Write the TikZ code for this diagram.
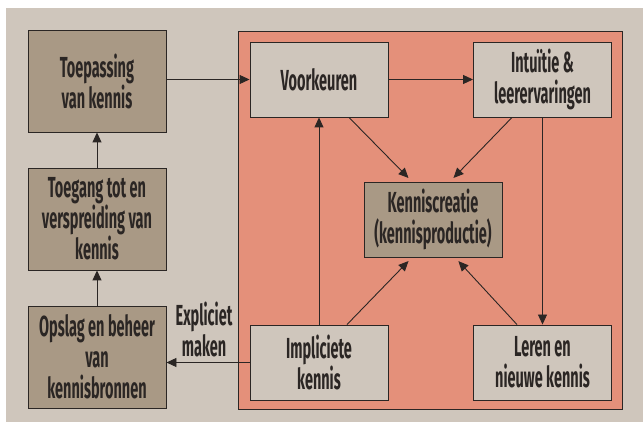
\documentclass[tikz,border=0pt]{standalone}
\usepackage{fontspec}
\setmainfont{Fira Sans}[FakeStretch=0.5]
\usetikzlibrary{arrows.meta,positioning,calc}
\definecolor{bgbeige}{HTML}{CFC6BC}
\definecolor{darkbox}{HTML}{A99985}
\definecolor{redzone}{HTML}{E4907A}
\definecolor{inkline}{HTML}{2B2624}
\tikzset{
  every picture/.style={line width=0.9pt},
  box/.style={draw=inkline, fill=bgbeige, minimum width=138pt, minimum height=75pt,
    inner sep=0pt, align=center, text=inkline, font=\fontsize{29}{31}\selectfont\bfseries},
  dbox/.style={box, fill=darkbox, minimum height=102pt},
  arr/.style={draw=inkline, -{Triangle[length=10pt,width=9pt]}},
  every node/.style={font=\fontsize{29}{31}\selectfont\bfseries}
}
\begin{document}
\begin{tikzpicture}[x=1pt, y=-1pt]
    \useasboundingbox (0,0) rectangle (643,422);
    \fill[bgbeige] (6,8) rectangle (643,422);
    \filldraw[fill=redzone, draw=inkline] (238,31) rectangle (622,409);

    \node [dbox] (toep) at (97,81) {Toepassing\\van kennis};
    \node [dbox] (toeg) at (97,219) {Toegang tot en\\verspreiding van\\kennis};
    \node [dbox] (opslag) at (97,357) {Opslag en beheer\\van\\kennisbronnen};

    \node [box] (voork) at (319,79.5) {Voorkeuren};
    \node [box] (intu) at (542.5,79.5) {Intuïtie \&\\leerervaringen};
    \node [box, fill=darkbox] (kc) at (433,219.5) {Kenniscreatie\\(kennisproductie)};
    \node [box] (impl) at (319,362.5) {Impliciete\\kennis};
    \node [box] (leren) at (542.5,362.5) {Leren en\\nieuwe kennis};

    \node [text=inkline, align=center, inner sep=0pt] (expl) at (204,329) {Expliciet\\maken};

    \draw[arr] (toep.east |- voork.west) -- (voork.west);
    \draw[arr] (toeg) -- (toep);
    \draw[arr] (opslag) -- (toeg);
    \draw[arr] (voork) -- (intu);
    \draw[arr] (impl) -- (voork);
    \draw[arr] (intu) -- (leren);

    \draw[arr, shorten >=5pt] ([xshift=30pt]voork.south) -- ([xshift=-21pt]kc.north);
    \draw[arr, shorten >=5pt] ([xshift=-30.5pt]intu.south) -- ([xshift=17pt]kc.north);
    \draw[arr, shorten >=5pt] ([xshift=28pt]impl.north) -- ([xshift=-21pt]kc.south);
    \draw[arr, shorten >=5pt] ([xshift=-25.5pt]leren.north) -- ([xshift=22pt]kc.south);

    \draw[arr] (impl.west) -- (impl.west -| opslag.east);
\end{tikzpicture}
\end{document}
